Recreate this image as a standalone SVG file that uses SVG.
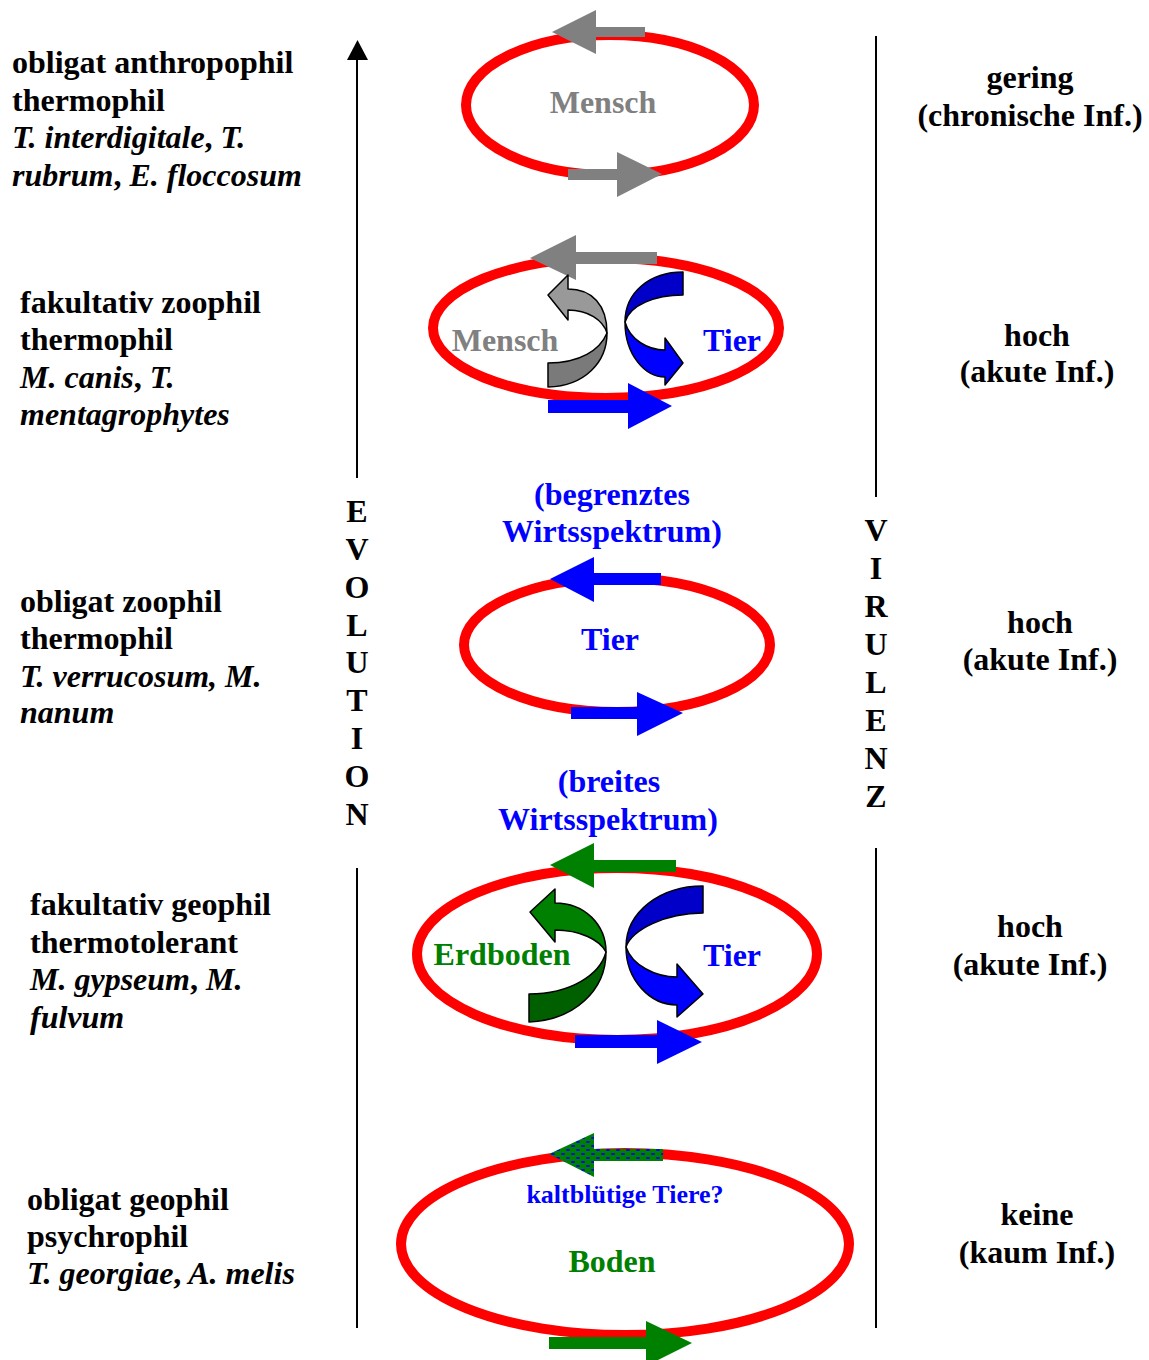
<svg xmlns="http://www.w3.org/2000/svg" width="1149" height="1360" viewBox="0 0 1149 1360">
<style>
text{font-family:"Liberation Serif","Times New Roman",serif;font-weight:bold;font-size:32px}
.i{font-style:italic}
.c{text-anchor:middle}
.ring{fill:none;stroke:#FF0000;stroke-width:10}
.ax{stroke:#000;stroke-width:2;fill:none}
.cv{stroke:#000;stroke-width:1.5;stroke-linejoin:round}
.gray{fill:#808080}
.blue{fill:#0000FF}
.green{fill:#008000}
</style>
<defs>
<pattern id="dots" width="10" height="8" patternUnits="userSpaceOnUse">
<rect width="10" height="8" fill="#008000"/>
<ellipse cx="3" cy="2" rx="2.2" ry="1" fill="#0000FF"/>
<ellipse cx="8" cy="6" rx="2.2" ry="1" fill="#0000FF"/>
</pattern>
</defs>

<g id="axes">
<path class="ax" d="M357,478 V60"/>
<path d="M347,60 L368,60 L357.5,40 Z" fill="#000"/>
<path class="ax" d="M357,868 V1328"/>
<path class="ax" d="M876,36 V497"/>
<path class="ax" d="M876,848 V1328"/>
</g>

<g id="evolution">
<text class="c" x="357" y="522">E</text>
<text class="c" x="357" y="560">V</text>
<text class="c" x="357" y="598">O</text>
<text class="c" x="357" y="636">L</text>
<text class="c" x="357" y="673">U</text>
<text class="c" x="357" y="711">T</text>
<text class="c" x="357" y="749">I</text>
<text class="c" x="357" y="787">O</text>
<text class="c" x="357" y="825">N</text>
</g>
<g id="virulenz">
<text class="c" x="876" y="541">V</text>
<text class="c" x="876" y="579">I</text>
<text class="c" x="876" y="617">R</text>
<text class="c" x="876" y="655">U</text>
<text class="c" x="876" y="693">L</text>
<text class="c" x="876" y="731">E</text>
<text class="c" x="876" y="769">N</text>
<text class="c" x="876" y="807">Z</text>
</g>

<g id="left1">
<text x="12" y="73">obligat anthropophil</text>
<text x="12" y="111">thermophil</text>
<text x="12" y="148"><tspan class="i">T. interdigitale</tspan>,<tspan class="i"> T.</tspan></text>
<text x="12" y="186"><tspan class="i">rubrum</tspan>,<tspan class="i"> E. floccosum</tspan></text>
</g>
<g id="left2">
<text x="20" y="313">fakultativ zoophil</text>
<text x="20" y="350">thermophil</text>
<text x="20" y="388"><tspan class="i">M. canis</tspan>,<tspan class="i"> T.</tspan></text>
<text x="20" y="425" class="i">mentagrophytes</text>
</g>
<g id="left3">
<text x="20" y="612">obligat zoophil</text>
<text x="20" y="649">thermophil</text>
<text x="20" y="687" class="i">T. verrucosum, M.</text>
<text x="20" y="723" class="i">nanum</text>
</g>
<g id="left4">
<text x="30" y="915">fakultativ geophil</text>
<text x="30" y="953">thermotolerant</text>
<text x="30" y="990"><tspan class="i">M. gypseum</tspan>,<tspan class="i"> M.</tspan></text>
<text x="30" y="1028" class="i">fulvum</text>
</g>
<g id="left5">
<text x="27" y="1210">obligat geophil</text>
<text x="27" y="1247">psychrophil</text>
<text x="27" y="1284"><tspan class="i">T. georgiae</tspan>,<tspan class="i"> A. melis</tspan></text>
</g>

<g id="right1">
<text class="c" x="1030" y="88">gering</text>
<text class="c" x="1030" y="126">(chronische Inf.)</text>
</g>
<g id="right2">
<text class="c" x="1037" y="346">hoch</text>
<text class="c" x="1037" y="382">(akute Inf.)</text>
</g>
<g id="right3">
<text class="c" x="1040" y="633">hoch</text>
<text class="c" x="1040" y="670">(akute Inf.)</text>
</g>
<g id="right4">
<text class="c" x="1030" y="937">hoch</text>
<text class="c" x="1030" y="975">(akute Inf.)</text>
</g>
<g id="right5">
<text class="c" x="1037" y="1225">keine</text>
<text class="c" x="1037" y="1263">(kaum Inf.)</text>
</g>

<g id="cycle1">
<ellipse class="ring" cx="610" cy="105" rx="144" ry="70"/>
<text class="c" x="603" y="113" fill="#808080">Mensch</text>
</g>
<g id="cycle2">
<ellipse class="ring" cx="606" cy="328" rx="173" ry="70"/>
<text class="c" x="505" y="351" fill="#808080">Mensch</text>
<text class="c" x="732" y="351" fill="#0000FF">Tier</text>
</g>
<g id="label-begrenzt">
<text class="c" x="612" y="505" fill="#0000FF">(begrenztes</text>
<text class="c" x="612" y="542" fill="#0000FF">Wirtsspektrum)</text>
</g>
<g id="cycle3">
<ellipse class="ring" cx="617" cy="645" rx="153" ry="67"/>
<text class="c" x="610" y="650" fill="#0000FF">Tier</text>
</g>
<g id="label-breit">
<text class="c" x="609" y="792" fill="#0000FF">(breites</text>
<text class="c" x="608" y="830" fill="#0000FF">Wirtsspektrum)</text>
</g>
<g id="cycle4">
<ellipse class="ring" cx="617" cy="954" rx="200" ry="86"/>
<text class="c" x="502" y="965" fill="#008000">Erdboden</text>
<text class="c" x="732" y="966" fill="#0000FF">Tier</text>
</g>
<g id="cycle5">
<ellipse class="ring" cx="625" cy="1244" rx="224" ry="91"/>
<text class="c" x="625" y="1203" fill="#0000FF" style="font-size:26px">kaltblütige Tiere?</text>
<text class="c" x="612" y="1272" fill="#008000">Boden</text>
</g>

<g id="connectors">
<path class="gray" d="M645,27 L596,27 L596,10 L552,32 L596,54 L596,37 L645,37 Z"/>
<path class="gray" d="M568,169 L617,169 L617,152 L662,174 L617,197 L617,180 L568,180 Z"/>
<path class="gray" d="M657,252 L576,252 L576,235 L530,258 L576,280 L576,264 L657,264 Z"/>
<path class="blue" d="M548,400 L628,400 L628,383 L672,406 L628,429 L628,413 L548,413 Z"/>
<path class="blue" d="M661,573 L594,573 L594,557 L550,579 L594,602 L594,585 L661,585 Z"/>
<path class="blue" d="M571,707 L637,707 L637,692 L683,713 L637,736 L637,719 L571,719 Z"/>
<path class="green" d="M676,860 L594,860 L594,843 L550,865 L594,888 L594,872 L676,872 Z"/>
<path class="blue" d="M575,1035 L657,1035 L657,1020 L702,1042 L657,1064 L657,1048 L575,1048 Z"/>
<path fill="url(#dots)" d="M663,1149 L594,1149 L594,1133 L549,1154 L594,1177 L594,1161 L663,1161 Z"/>
<path class="green" d="M549,1337 L646,1337 L646,1321 L692,1343 L646,1366 L646,1349 L549,1349 Z"/>

<path class="cv" fill="#7a7a7a" d="M548,387 C585,386 607,362 607,333 C600,350 580,363 548,363 Z"/>
<path class="cv" fill="#999999" d="M607,333 C607,305 592,289 568,289 L568,275 L548,295 L568,320 L568,310 C588,310 603,320 607,333 Z"/>
<path class="cv" fill="#0000C8" d="M683,272 C650,272 625,292 625,322 C630,305 655,295 683,295 Z"/>
<path class="cv" fill="#0000FF" d="M625,322 C625,355 645,377 665,377 L665,385 L683,363 L665,338 L665,350 C648,350 630,340 625,322 Z"/>

<path class="cv" fill="#006000" d="M529,1022 C575,1020 606,990 606,952 C600,975 570,994 529,994 Z"/>
<path class="cv" fill="#008000" d="M606,952 C606,925 585,903 555,903 L555,889 L530,912 L555,942 L555,930 C580,930 600,940 606,952 Z"/>
<path class="cv" fill="#0000C8" d="M703,886 C660,886 626,912 626,947 C632,930 665,913 703,913 Z"/>
<path class="cv" fill="#0000FF" d="M626,947 C626,980 650,1005 677,1005 L677,1017 L703,994 L677,964 L677,977 C655,977 632,965 626,947 Z"/>
</g>
</svg>
